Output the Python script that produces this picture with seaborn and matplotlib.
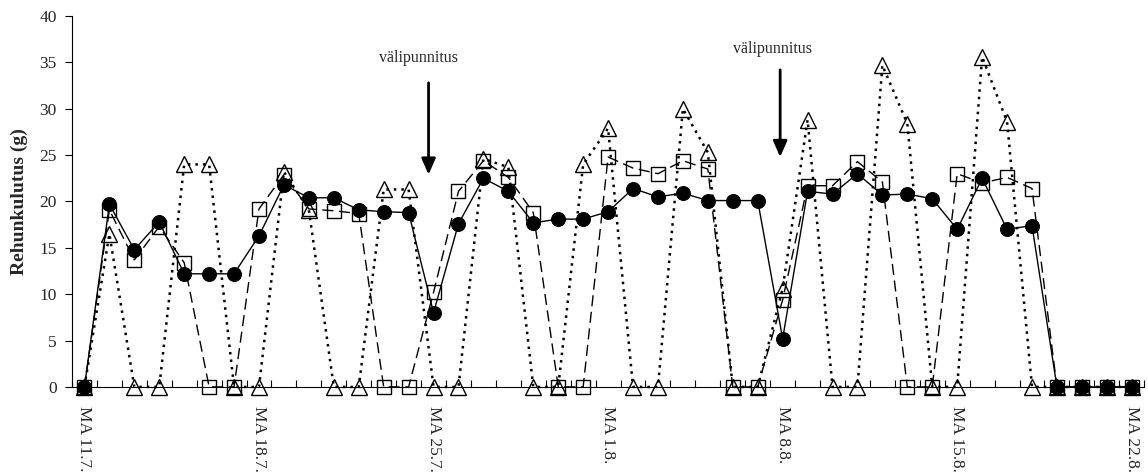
import matplotlib
matplotlib.use("Agg")
import matplotlib.pyplot as plt
import seaborn as sns
import numpy as np
import pandas as pd

# ---- data ----
days = list(range(43))  # daily points, MA 11.7. .. MA 22.8.
tick_labels = ["MA 11.7.", "MA 18.7.", "MA 25.7.", "MA 1.8.", "MA 8.8.", "MA 15.8.", "MA 22.8."]
tick_days = [0, 7, 14, 21, 28, 35, 42]

circle_vals = [0, 19.7, 14.8, 17.8, 12.2, 12.2, 12.2, 16.3, 21.8, 20.4, 20.4, 19.1, 18.9, 18.8,
               8.0, 17.6, 22.5, 21.1, 17.7, 18.1, 18.1, 18.9, 21.4, 20.5, 20.9, 20.1, 20.1, 20.1,
               5.2, 21.1, 20.8, 23.0, 20.7, 20.8, 20.3, 17.0, 22.5, 17.0, 17.4, 0, 0, 0, 0]
square_vals = [0, 19.1, 13.7, 17.3, 13.4, 0, 0, 19.2, 22.9, 19.2, 19.0, 18.7, 0, 0,
               10.2, 21.1, 24.4, 22.6, 18.8, 0, 0, 24.8, 23.6, 23.0, 24.4, 23.5, 0, 0,
               9.4, 21.7, 21.7, 24.3, 22.1, 0, 0, 23.0, 22.0, 22.6, 21.4, 0, 0, 0, 0]
triangle_vals = [0, 16.5, 0, 0, 24.0, 24.0, 0, 0, 23.2, 19.1, 0, 0, 21.3, 21.3,
                 0, 0, 24.6, 23.7, 0, 0, 24.0, 27.9, 0, 0, 30.0, 25.3, 0, 0,
                 10.6, 28.8, 0, 0, 34.7, 28.4, 0, 0, 35.6, 28.6, 0, 0, 0, 0, 0]

annot_text = "välipunnitus"
annot_x = [13.8, 27.9]

sns.set_theme(style="white")
plt.rcParams['font.family'] = ['Liberation Serif', 'DejaVu Serif']

fig = plt.figure(figsize=(11.48, 4.73), dpi=100)
ax = fig.add_axes([0.0627, 0.182, 0.934, 0.784])

df = pd.DataFrame({"day": days, "c": circle_vals, "s": square_vals, "t": triangle_vals})

sns.lineplot(data=df, x="day", y="t", ax=ax, color="black", lw=1.8,
             marker="^", markersize=11, markerfacecolor="none", markeredgecolor="black",
             markeredgewidth=1.0, linestyle=(0, (1, 2.0)), clip_on=False, zorder=3)
sns.lineplot(data=df, x="day", y="s", ax=ax, color="black", lw=1.0,
             marker="s", markersize=10, markerfacecolor="none", markeredgecolor="black",
             markeredgewidth=1.0, linestyle=(0, (8, 4)), clip_on=False, zorder=4)
sns.lineplot(data=df, x="day", y="c", ax=ax, color="black", lw=1.0,
             marker="o", markersize=10, markerfacecolor="black", markeredgecolor="black",
             clip_on=False, zorder=5)

ax.set_xlim(-0.5, 42.5)
ax.set_ylim(0, 40)
ax.set_yticks(range(0, 41, 5))
ax.set_xticks(tick_days)
ax.set_xticklabels(tick_labels, rotation=270, fontsize=12.5)
ax.set_xticks(np.arange(-0.5, 43, 1.0), minor=True)
ax.tick_params(axis="x", which="major", length=0, pad=14)
ax.tick_params(axis="x", which="minor", direction="in", length=5, width=0.8, color="black", bottom=True)
ax.tick_params(axis="y", direction="out", length=5, width=0.8, color="black", left=True,
               labelsize=12.5, pad=6)
ax.set_xlabel("")
ax.set_ylabel("Rehunkulutus (g)", fontsize=14, fontweight="bold", labelpad=8)
for side in ["top", "right"]:
    ax.spines[side].set_visible(False)
for side in ["left", "bottom"]:
    ax.spines[side].set_color("black")
    ax.spines[side].set_linewidth(0.8)

ax.annotate("", xy=(annot_x[0], 22.6), xytext=(annot_x[0], 33.1),
            arrowprops=dict(arrowstyle="-|>,head_width=0.35,head_length=0.8", color="black", lw=2))
ax.text(13.4, 35.5, annot_text, ha="center", va="center", fontsize=11.5)
ax.annotate("", xy=(annot_x[1], 24.5), xytext=(annot_x[1], 34.5),
            arrowprops=dict(arrowstyle="-|>,head_width=0.35,head_length=0.8", color="black", lw=2))
ax.text(27.6, 36.5, annot_text, ha="center", va="center", fontsize=11.5)

fig.savefig("out.png", dpi=100)
